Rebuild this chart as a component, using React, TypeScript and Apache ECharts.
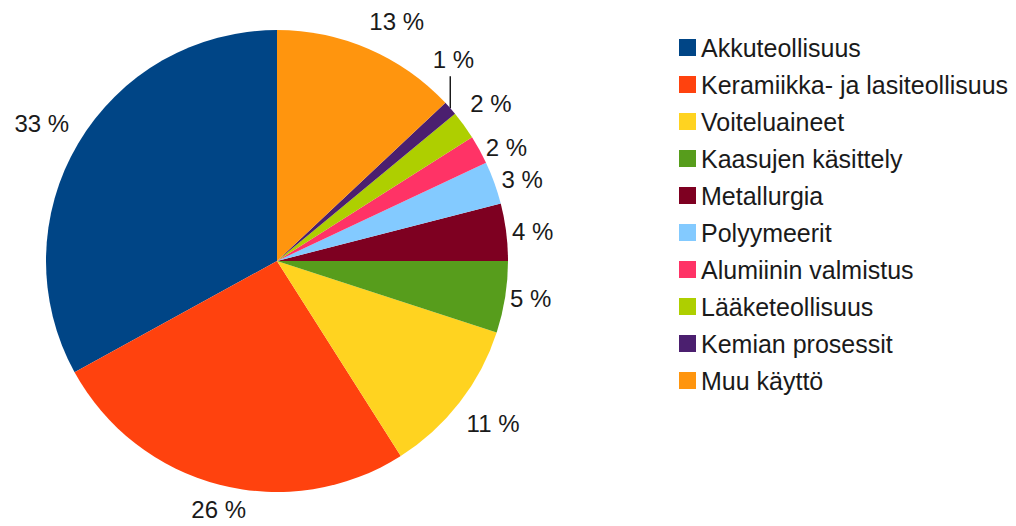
import React, { useEffect, useRef } from "react";
import * as echarts from "echarts";

const categories = [
  "Akkuteollisuus",
  "Keramiikka- ja lasiteollisuus",
  "Voiteluaineet",
  "Kaasujen käsittely",
  "Metallurgia",
  "Polyymeerit",
  "Alumiinin valmistus",
  "Lääketeollisuus",
  "Kemian prosessit",
  "Muu käyttö",
];
const shares = [33, 26, 11, 5, 4, 3, 2, 2, 1, 13];
const colors = [
  "#004586",
  "#ff420e",
  "#ffd320",
  "#579d1c",
  "#7e0021",
  "#83caff",
  "#ff3366",
  "#aecf00",
  "#4b1f6f",
  "#ff950e",
];
// small nudges of the percentage labels away from ECharts' default outside placement
const labelNudges: [number, number][] = [
  [8, -13],
  [35, 11],
  [-9, 12],
  [-14, -1],
  [-13, 1],
  [-11, 1],
  [-11, 5],
  [-10, -13],
  [-33, -39],
  [-10, -15],
];
const leaderIndex = 8;
const leaderRise = 32;

const FONT = "'Liberation Sans', Arial, sans-serif";

export default function App() {
  const ref = useRef<HTMLDivElement>(null);
  useEffect(() => {
    document.body.style.margin = "0";
    const chart = echarts.init(ref.current!, undefined, { renderer: "svg" });
    chart.setOption({
      animation: false,
      backgroundColor: "#ffffff",
      color: colors,
      legend: {
        orient: "vertical",
        left: 674,
        top: 30,
        itemWidth: 17,
        itemHeight: 17,
        itemGap: 12,
        icon: "rect",
        textStyle: { fontFamily: FONT, fontSize: 25, lineHeight: 25, color: "#1a1a1a" },
        data: categories,
      },
      series: [
        {
          type: "pie",
          center: [277, 261],
          radius: 231,
          startAngle: 90,
          clockwise: false,
          avoidLabelOverlap: false,
          itemStyle: { borderWidth: 0 },
          label: {
            show: true,
            position: "outside",
            fontFamily: FONT,
            fontSize: 24,
            color: "#1a1a1a",
            formatter: (p: any) => `${p.value} %`,
          },
          labelLine: { show: false, length: 14, length2: 0, lineStyle: { color: "#1a1a1a", width: 1.5 } },
          labelLayout: (p: any) => {
            const out: any = {
              dx: labelNudges[p.dataIndex][0],
              dy: labelNudges[p.dataIndex][1],
              hideOverlap: false,
            };
            if (p.dataIndex === leaderIndex && p.labelLinePoints && p.labelLinePoints[0]) {
              const a = p.labelLinePoints[0];
              out.labelLinePoints = [
                [a[0], a[1]],
                [a[0], a[1] - leaderRise],
              ];
            }
            return out;
          },
          data: categories.map((name, i) => ({
            name,
            value: shares[i],
            labelLine: i === leaderIndex ? { show: true } : undefined,
          })),
        },
      ],
    });
    return () => chart.dispose();
  }, []);
  return <div ref={ref} style={{ width: 1016, height: 526 }} />;
}
